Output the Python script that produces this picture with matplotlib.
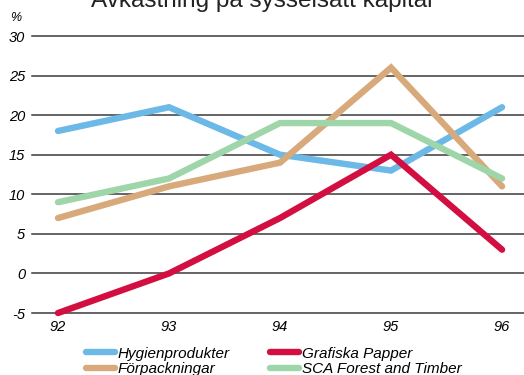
import matplotlib.pyplot as plt
import numpy as np

plt.rcParams['font.family'] = ['Liberation Sans', 'DejaVu Sans']

years = [92, 93, 94, 95, 96]
year_labels = ['92', '93', '94', '95', '96']
hygien = [18, 21, 15, 13, 21]
forpack = [7, 11, 14, 26, 11]
grafiska = [-5, 0, 7, 15, 3]
sca_forest = [9, 12, 19, 19, 12]
yticks = [-5, 0, 5, 10, 15, 20, 25, 30]

series = [
    ('Hygienprodukter', hygien, '#6cb9e8'),
    ('Förpackningar', forpack, '#d8a97a'),
    ('Grafiska Papper', grafiska, '#d20f40'),
    ('SCA Forest and Timber', sca_forest, '#9ed5a9'),
]

fig = plt.figure(figsize=(5.24, 3.75), dpi=100)
ax = fig.add_axes([0.0611, 0.1653, 0.939, 0.7387])

for y in yticks:
    ax.axhline(y, color='#3a3a3a', lw=1.1, zorder=1, clip_on=False)

for name, vals, col in series:
    ax.plot(years, vals, color=col, lw=4.6, solid_capstyle='round',
            solid_joinstyle='miter', label=name, zorder=3, clip_on=False)

ax.set_xlim(91.766, 96.198)
ax.set_ylim(-5, 30)
ax.set_xticks(years)
ax.set_xticklabels(year_labels, style='italic', fontsize=10.5)
ax.set_yticks(yticks)
ax.set_yticklabels([str(v) for v in yticks], style='italic', fontsize=10.5)
ax.tick_params(length=0, pad=5)
ax.tick_params(axis='y', pad=5)
for s in ax.spines.values():
    s.set_visible(False)

fig.text(0.029, 0.952, '%', style='italic', fontsize=9, ha='center', va='center')
fig.text(0.5, 1.0, 'Avkastning på sysselsatt kapital', fontsize=17.5,
         ha='center', va='center', color='#222222')

leg = ax.legend(ncol=2, loc='upper left', bbox_to_anchor=(0.097, -0.099),
                frameon=False, prop={'style': 'italic', 'size': 11},
                handlelength=1.9, handletextpad=0.2, columnspacing=2.6,
                labelspacing=0.12, borderaxespad=0)

fig.savefig('out.png', dpi=100)
